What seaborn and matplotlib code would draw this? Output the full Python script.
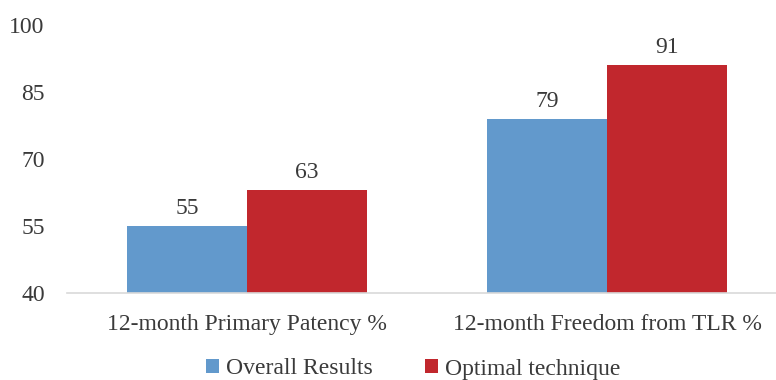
import matplotlib
matplotlib.use("Agg")
import matplotlib.pyplot as plt
import seaborn as sns
import pandas as pd
from matplotlib.patches import Patch

categories = ["12-month Primary Patency %", "12-month Freedom from TLR %"]
series_names = ["Overall Results", "Optimal technique"]
overall = [55, 79]
optimal = [63, 91]
y_ticks = [40, 55, 70, 85, 100]

colors = ["#6299CC", "#C1272D"]
text_color = "#3A3A3A"

df = pd.DataFrame({
    "category": categories * 2,
    "series": [series_names[0]] * 2 + [series_names[1]] * 2,
    "value": overall + optimal,
})

sns.set_theme(style="white")
plt.rcParams["font.family"] = ["Liberation Serif", "DejaVu Serif"]

fig = plt.figure(figsize=(7.76, 3.80), dpi=100)
ax = fig.add_axes([67 / 776, 87 / 380, 709 / 776, 268 / 380])

sns.barplot(data=df, x="category", y="value", hue="series", palette=colors,
            width=0.667, ax=ax, legend=False, saturation=1)

# bars start from the axis floor
for bar in ax.patches:
    h = bar.get_height()
    bar.set_y(40)
    bar.set_height(h - 40)
    bar.set_edgecolor("none")

for cont in ax.containers:
    labels = [f"{int(round(b.get_y() + b.get_height()))}" for b in cont]
    ax.bar_label(cont, labels=labels, padding=5, fontsize=17, color=text_color)

ax.set_ylim(40, 100)
ax.set_yticks(y_ticks)
ax.set_xlim(-0.5, 1.5 - 11 / 360)
ax.set_xlabel("")
ax.set_ylabel("")
ax.tick_params(axis="y", labelsize=17, colors=text_color, length=0, pad=16)
ax.tick_params(axis="x", labelsize=17, colors=text_color, length=0, pad=15)

for s in ["top", "right", "left"]:
    ax.spines[s].set_visible(False)
ax.spines["bottom"].set_color("#D9D9D9")
ax.spines["bottom"].set_linewidth(1.2)

handles = [Patch(facecolor=c, edgecolor="none") for c in colors]
fig.legend(handles, series_names, loc="center", bbox_to_anchor=(413 / 776, 11 / 380),
           ncol=2, frameon=False, fontsize=17, handlelength=0.55, handleheight=0.55,
           handletextpad=0.3, columnspacing=2.2, labelcolor=text_color,
           borderpad=0, borderaxespad=0)

fig.savefig("out.png", dpi=100)
